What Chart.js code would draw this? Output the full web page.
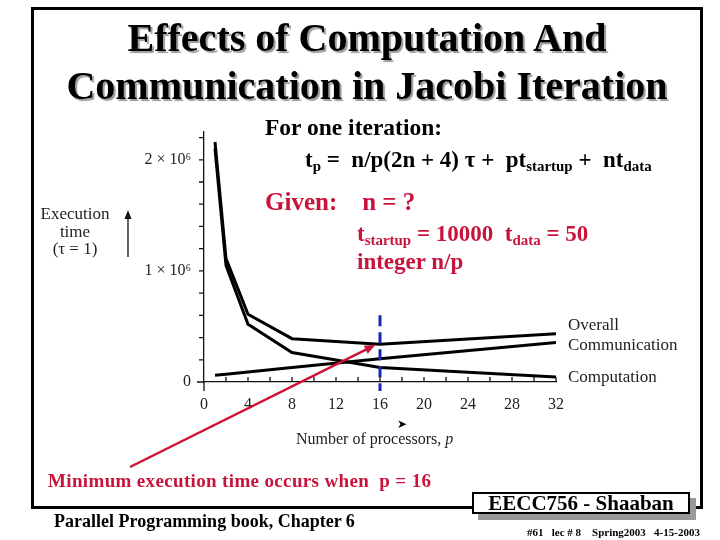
<!DOCTYPE html>
<html>
<head>
<meta charset="utf-8">
<script src="https://cdn.jsdelivr.net/npm/chart.js@4"></script>
<style>
  body { margin: 0; background: #fff; }
  #slide { position: relative; width: 720px; height: 540px; overflow: hidden; background: #fff; font-family: "Liberation Serif", serif; }
  #chart { position: absolute; left: 0; top: 0; }
  .t { position: absolute; white-space: nowrap; line-height: 1; }
  .b { font-weight: bold; }
  .red { color: #c8143c; }
  sub { font-size: 65%; vertical-align: -0.3em; line-height: 0; }
  #frame { position: absolute; left: 31px; top: 7px; width: 672px; height: 502px; border: 3px solid #000; box-sizing: border-box; }
  #title { position: absolute; left: 31px; width: 672px; top: 14px; text-align: center; font-weight: bold; font-size: 40px; line-height: 48px; text-shadow: 2px 2px 1px #9a9a9a; }
  #badge-shadow { position: absolute; left: 478px; top: 498px; width: 218px; height: 22px; background: #999; }
  #badge { position: absolute; left: 472px; top: 492px; width: 218px; height: 22px; background: #fff; border: 2px solid #000; box-sizing: border-box; text-align: center; font-weight: bold; font-size: 21px; line-height: 19px; }
  .lbl { font-size: 17px; color: #222; }
</style>
</head>
<body>
<div id="slide">
  <div id="frame"></div>
  <canvas id="chart" width="720" height="540"></canvas>
  <div id="title">Effects of Computation And<br>Communication in Jacobi Iteration</div>

  <div class="t b" style="left:265px; top:116px; font-size:23.5px;">For one iteration:</div>
  <div class="t b" style="left:305px; top:148px; font-size:23px;">t<sub>p</sub> = &nbsp;n/p(2n + 4) τ + &nbsp;pt<sub>startup</sub> + &nbsp;nt<sub>data</sub></div>
  <div class="t b red" style="left:265px; top:189px; font-size:25px;">Given: &nbsp;&nbsp;&nbsp;n = ?</div>
  <div class="t b red" style="left:357px; top:222px; font-size:23px;">t<sub>startup</sub> = 10000 &nbsp;t<sub>data</sub> = 50</div>
  <div class="t b red" style="left:357px; top:250px; font-size:23px;">integer n/p</div>

  <div class="t lbl" style="left:35px; top:205px; width:80px; text-align:center; line-height:17.5px;">Execution<br>time<br>(τ = 1)</div>
  <div class="t lbl" style="left:296px; top:431px; font-size:16px;">Number of processors, <i>p</i></div>
  <div class="t" style="left:397px; top:418px; font-size:12px;">➤</div>

  <div class="t lbl" style="left:568px; top:316px;">Overall</div>
  <div class="t lbl" style="left:568px; top:336px;">Communication</div>
  <div class="t lbl" style="left:568px; top:368px;">Computation</div>

  <div class="t b red" style="left:48px; top:471px; font-size:19px; letter-spacing:0.35px;">Minimum execution time occurs when &nbsp;p = 16</div>
  <div class="t b" style="left:54px; top:512px; font-size:18px;">Parallel Programming book, Chapter 6</div>

  <div id="badge-shadow"></div>
  <div id="badge">EECC756 - Shaaban</div>
  <div class="t b" style="left:527px; top:527px; font-size:11px;">#61 &nbsp;&nbsp;lec # 8 &nbsp;&nbsp;&nbsp;Spring2003 &nbsp;&nbsp;4-15-2003</div>
</div>

<script>
// processors p and execution times (tau = 1)
const processors = [1, 2, 4, 8, 16, 32];
const overall = [2160000, 1110000, 610000, 390000, 340000, 435000];
const communication = [60000, 70000, 90000, 130000, 210000, 355000];
const computation = [2100000, 1050000, 520000, 265000, 130000, 45000];

const xTickLabels = [0, 4, 8, 12, 16, 20, 24, 28, 32];
const yTickValues = [0, 1000000, 2000000];
const yTickLabels = ['0', '1 × 10⁶', '2 × 10⁶'];
const minimumAt = 16;

const arrowStart = {x: 130, y: 467}; // slide position of the arrow tail

const points = (vals) => processors.map((p, i) => ({x: p, y: vals[i]}));

const lineStyle = {borderColor: '#000', borderWidth: 3, pointRadius: 0, tension: 0, fill: false};

// tick marks, axis stubs, the p = 16 marker and the pointer arrow
const decorations = {
    id: 'decorations',
    afterDatasetsDraw(chart) {
        const {ctx, chartArea, scales: {x, y}} = chart;
        ctx.save();
        ctx.strokeStyle = '#111';
        ctx.lineWidth = 1.3;
        ctx.beginPath();
        // axis extensions
        ctx.moveTo(chartArea.left, chartArea.bottom);
        ctx.lineTo(chartArea.left, chartArea.bottom + 9);
        ctx.moveTo(chartArea.left - 7, chartArea.bottom);
        ctx.lineTo(chartArea.left, chartArea.bottom);
        // x ticks, pointing up
        for (let v = 2; v <= 32; v += 2) {
            const px = x.getPixelForValue(v);
            ctx.moveTo(px, chartArea.bottom);
            ctx.lineTo(px, chartArea.bottom - 5);
        }
        // y ticks, pointing left
        for (let v = 200000; v <= 2200000; v += 200000) {
            const py = y.getPixelForValue(v);
            ctx.moveTo(chartArea.left, py);
            ctx.lineTo(chartArea.left - 5, py);
        }
        ctx.stroke();

        // y axis label arrow
        ctx.beginPath();
        ctx.moveTo(128, 257);
        ctx.lineTo(128, 216);
        ctx.stroke();
        ctx.fillStyle = '#111';
        ctx.beginPath();
        ctx.moveTo(128, 210);
        ctx.lineTo(124.5, 219);
        ctx.lineTo(131.5, 219);
        ctx.closePath();
        ctx.fill();

        // dashed marker at the minimum
        const mx = x.getPixelForValue(minimumAt);
        ctx.strokeStyle = '#1428b4';
        ctx.lineWidth = 3;
        ctx.setLineDash([11, 6]);
        ctx.beginPath();
        ctx.moveTo(mx, y.getPixelForValue(600000));
        ctx.lineTo(mx, chartArea.bottom + 9);
        ctx.stroke();
        ctx.setLineDash([]);

        // red pointer to the minimum
        const tx = x.getPixelForValue(15.6);
        const ty = y.getPixelForValue(335000);
        const ang = Math.atan2(ty - arrowStart.y, tx - arrowStart.x);
        ctx.strokeStyle = '#c8143c';
        ctx.fillStyle = '#c8143c';
        ctx.lineWidth = 2.5;
        ctx.beginPath();
        ctx.moveTo(arrowStart.x, arrowStart.y);
        ctx.lineTo(tx - 8 * Math.cos(ang), ty - 8 * Math.sin(ang));
        ctx.stroke();
        ctx.beginPath();
        ctx.moveTo(tx, ty);
        ctx.lineTo(tx - 11 * Math.cos(ang) + 4.5 * Math.sin(ang), ty - 11 * Math.sin(ang) - 4.5 * Math.cos(ang));
        ctx.lineTo(tx - 11 * Math.cos(ang) - 4.5 * Math.sin(ang), ty - 11 * Math.sin(ang) + 4.5 * Math.cos(ang));
        ctx.closePath();
        ctx.fill();
        ctx.restore();
    }
};

new Chart(document.getElementById('chart'), {
    type: 'line',
    data: {
        datasets: [
            {label: 'Overall', data: points(overall), ...lineStyle},
            {label: 'Communication', data: points(communication), ...lineStyle},
            {label: 'Computation', data: points(computation), ...lineStyle},
        ]
    },
    options: {
        responsive: false,
        animation: false,
        layout: {padding: {left: 0, right: 164, top: 132, bottom: 130}},
        plugins: {legend: {display: false}, tooltip: {enabled: false}},
        scales: {
            x: {
                type: 'linear',
                min: 0,
                max: 32,
                grid: {display: false, drawTicks: false},
                border: {color: '#111', width: 1.3},
                ticks: {
                    stepSize: 4,
                    padding: 13,
                    color: '#222',
                    font: {family: 'Liberation Serif', size: 16},
                    callback: (v) => xTickLabels.includes(v) ? String(v) : ''
                },
                afterFit: (scale) => {
                    scale.height = 28;
                    scale.paddingLeft = 0;
                    scale.paddingRight = 0;
                }
            },
            y: {
                min: 0,
                max: 2250000,
                grid: {display: false, drawTicks: false},
                border: {color: '#111', width: 1.3},
                afterBuildTicks: (scale) => {
                    scale.ticks = yTickValues.map(v => ({value: v}));
                },
                ticks: {
                    autoSkip: false,
                    padding: 13,
                    color: '#222',
                    font: {family: 'Liberation Serif', size: 16},
                    callback: (v) => {
                        const i = yTickValues.indexOf(v);
                        return i >= 0 ? yTickLabels[i] : '';
                    }
                },
                afterFit: (scale) => {
                    scale.width = 204;
                    scale.paddingTop = 0;
                    scale.paddingBottom = 0;
                }
            }
        }
    },
    plugins: [decorations]
});
</script>
</body>
</html>
